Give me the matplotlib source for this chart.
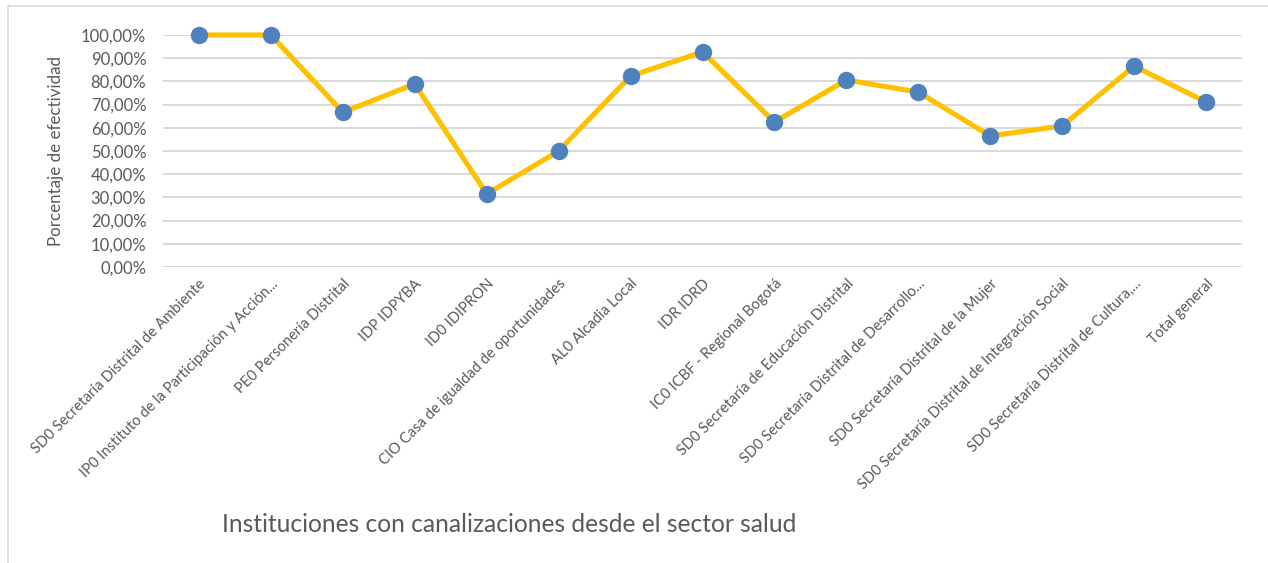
import matplotlib.pyplot as plt
from matplotlib.lines import Line2D
from matplotlib.ticker import FuncFormatter

# data
instituciones = [
    "SD0 Secretaría Distrital de Ambiente",
    "IP0 Instituto de la Participación y Acción...",
    "PE0 Personería Distrital",
    "IDP IDPYBA",
    "ID0 IDIPRON",
    "CIO Casa de igualdad de oportunidades",
    "AL0 Alcadia Local",
    "IDR IDRD",
    "IC0 ICBF - Regional Bogotá",
    "SD0 Secretaría de Educación Distrital",
    "SD0 Secretaría Distrital de Desarrollo...",
    "SD0 Secretaría Distrital de la Mujer",
    "SD0 Secretaría Distrital de Integración Social",
    "SD0 Secretaría Distrital de Cultura,...",
    "Total general",
]
efectividad = [1.0, 1.0, 0.6667, 0.789, 0.315, 0.50, 0.823, 0.927, 0.625,
               0.806, 0.754, 0.565, 0.608, 0.866, 0.711]

plt.rcParams['font.family'] = ['Lato', 'DejaVu Sans']
txt = '#595959'

fig = plt.figure(figsize=(12.68, 5.63), dpi=100)
ax = fig.add_axes([163 / 1268, 1 - 267 / 563, (1242 - 163) / 1268, (267 - 35) / 563])

x = range(len(instituciones))
ax.plot(x, efectividad, color='#FFC000', linewidth=3.7, marker='o',
        markersize=11.5, markerfacecolor='#4F81BD', markeredgecolor='#4F81BD',
        clip_on=False, zorder=3)

ax.set_xlim(-0.5, len(instituciones) - 0.5)
ax.set_ylim(0, 1.0)
ax.set_yticks([i / 10 for i in range(11)])
ax.yaxis.set_major_formatter(FuncFormatter(lambda v, p: f"{v * 100:.2f}%".replace('.', ',')))
ax.grid(axis='y', color='#D9D9D9', linewidth=1.4)
ax.set_axisbelow(True)
for s in ax.spines.values():
    s.set_visible(False)
ax.tick_params(length=0, colors=txt, labelsize=12)
ax.tick_params(axis='y', pad=12)

ax.set_xticks(list(x))
ax.set_xticklabels(instituciones, rotation=45, ha='right', rotation_mode='anchor',
                   fontsize=10.6, color=txt)
ax.tick_params(axis='x', pad=7)

ax.set_ylabel('Porcentaje de efectividad', fontsize=12.2, color=txt)
ax.yaxis.set_label_coords(-(163 - 64) / (1242 - 163), 0.5)
fig.text(222 / 1268, 1 - 524 / 563, 'Instituciones con canalizaciones desde el sector salud',
         fontsize=17.7, color=txt, ha='left', va='center')

# chart frame (left and top edges)
fig.add_artist(Line2D([8 / 1268, 8 / 1268], [0, 1 - 6 / 563], color='#D9D9D9', linewidth=1.2))
fig.add_artist(Line2D([8 / 1268, 1], [1 - 6 / 563, 1 - 6 / 563], color='#D9D9D9', linewidth=1.2))

fig.savefig('out.png', dpi=100)
